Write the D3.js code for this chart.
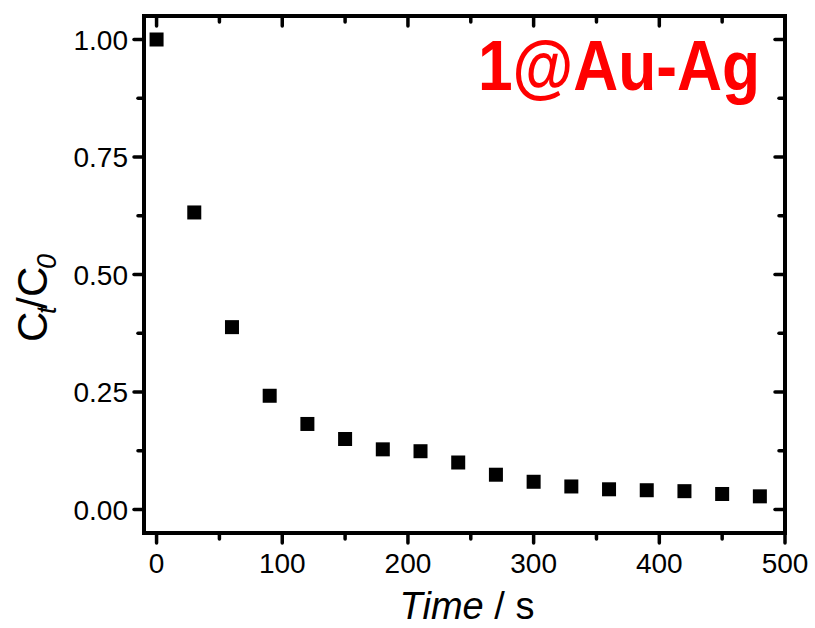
<!DOCTYPE html>
<html lang="en">
<head>
<meta charset="utf-8">
<title>Ct/C0 vs time</title>
<script src="https://cdn.jsdelivr.net/npm/d3@7"></script>
<style>
  body { margin: 0; background: #fff; }
  text { font-family: "Liberation Sans", Arial, sans-serif; }
  .frame { fill: none; stroke: #000; stroke-width: 4; }
  .tick-mark { stroke: #000; stroke-width: 3.5; stroke-linecap: round; }
</style>
</head>
<body>
<div id="vis"></div>
<script>

// Data
var times  = [0, 30, 60, 90, 120, 150, 180, 210, 240, 270, 300, 330, 360, 390, 420, 450, 480];
var ratios = [1.00, 0.632, 0.388, 0.242, 0.182, 0.150, 0.128, 0.124, 0.100, 0.074, 0.059, 0.049, 0.043, 0.041, 0.039, 0.033, 0.028];

var xMajor = [0, 100, 200, 300, 400, 500];
var xMinor = [50, 150, 250, 350, 450];
var yMajor = [0, 0.25, 0.5, 0.75, 1.0];
var yMinor = [0.125, 0.375, 0.625, 0.875];

var width = 815, height = 628;
var box = { left: 144, right: 785, top: 16, bottom: 533 };

var svg = d3.select('#vis').append('svg')
    .attr('width', width)
    .attr('height', height);

var x = d3.scaleLinear().domain([-10, 500]).range([box.left, box.right]);
var y = d3.scaleLinear().domain([-0.05, 1.05]).range([box.bottom, box.top]);

/* Ticks */
var majorLen = 10, minorLen = 6;

function tickLines(vals, len, horiz) {
  var g = svg.append('g');
  vals.forEach(function(v) {
    if (horiz) {
      // x ticks: outward at bottom, inward at top
      g.append('line').attr('class', 'tick-mark')
        .attr('x1', x(v)).attr('x2', x(v))
        .attr('y1', box.bottom).attr('y2', box.bottom + len);
      g.append('line').attr('class', 'tick-mark')
        .attr('x1', x(v)).attr('x2', x(v))
        .attr('y1', box.top).attr('y2', box.top + len);
    } else {
      g.append('line').attr('class', 'tick-mark')
        .attr('y1', y(v)).attr('y2', y(v))
        .attr('x1', box.left).attr('x2', box.left - len);
      g.append('line').attr('class', 'tick-mark')
        .attr('y1', y(v)).attr('y2', y(v))
        .attr('x1', box.right).attr('x2', box.right - len);
    }
  });
}

tickLines(xMajor, majorLen, true);
tickLines(xMinor, minorLen, true);
tickLines(yMajor, majorLen, false);
tickLines(yMinor, minorLen, false);

/* Frame */
svg.append('rect').attr('class', 'frame')
    .attr('x', box.left).attr('y', box.top)
    .attr('width', box.right - box.left)
    .attr('height', box.bottom - box.top);

/* Tick labels */
svg.append('g').selectAll('text')
  .data(xMajor).enter()
  .append('text')
    .attr('x', function(d) { return x(d); })
    .attr('y', 573)
    .attr('text-anchor', 'middle')
    .attr('font-size', 28)
    .text(function(d) { return d; });

svg.append('g').selectAll('text')
  .data(yMajor).enter()
  .append('text')
    .attr('x', 128)
    .attr('y', function(d) { return y(d) + 10; })
    .attr('text-anchor', 'end')
    .attr('font-size', 28)
    .text(function(d) { return d3.format('.2f')(d); });

/* Points */
var data = times.map(function(t, i) { return { t: t, r: ratios[i] }; });
var sq = 14;
svg.append('g').selectAll('rect')
  .data(data).enter()
  .append('rect')
    .attr('x', function(d) { return x(d.t) - sq / 2; })
    .attr('y', function(d) { return y(d.r) - sq / 2; })
    .attr('width', sq)
    .attr('height', sq)
    .attr('fill', '#000');

/* Axis titles */
var xt = svg.append('text')
    .attr('x', 467)
    .attr('y', 619)
    .attr('text-anchor', 'middle')
    .attr('font-size', 38);
xt.append('tspan').attr('font-style', 'italic').text('Time');
xt.append('tspan').text(' / s');

// y title: C_t/C_0, placed with its baseline at x = 47
var yt = svg.append('g')
    .attr('transform', 'translate(47, 342) rotate(-90)');
yt.append('text').attr('x', 0).attr('font-size', 42).text('C');
yt.append('text').attr('x', 28).attr('y', 9).attr('font-size', 27)
    .attr('font-style', 'italic').text('t');
yt.append('text').attr('x', 33).attr('font-size', 42).text('/');
yt.append('text').attr('x', 45).attr('font-size', 42).text('C');
yt.append('text').attr('x', 73).attr('y', 9).attr('font-size', 27)
    .attr('font-style', 'italic').text('0');

/* Label */
svg.append('text')
    .attr('x', 478)
    .attr('y', 90)
    .attr('font-size', 70)
    .attr('font-weight', 'bold')
    .attr('fill', '#ff0000')
    .attr('textLength', 282)
    .attr('lengthAdjust', 'spacingAndGlyphs')
    .text('1@Au-Ag');

</script>
</body>
</html>
